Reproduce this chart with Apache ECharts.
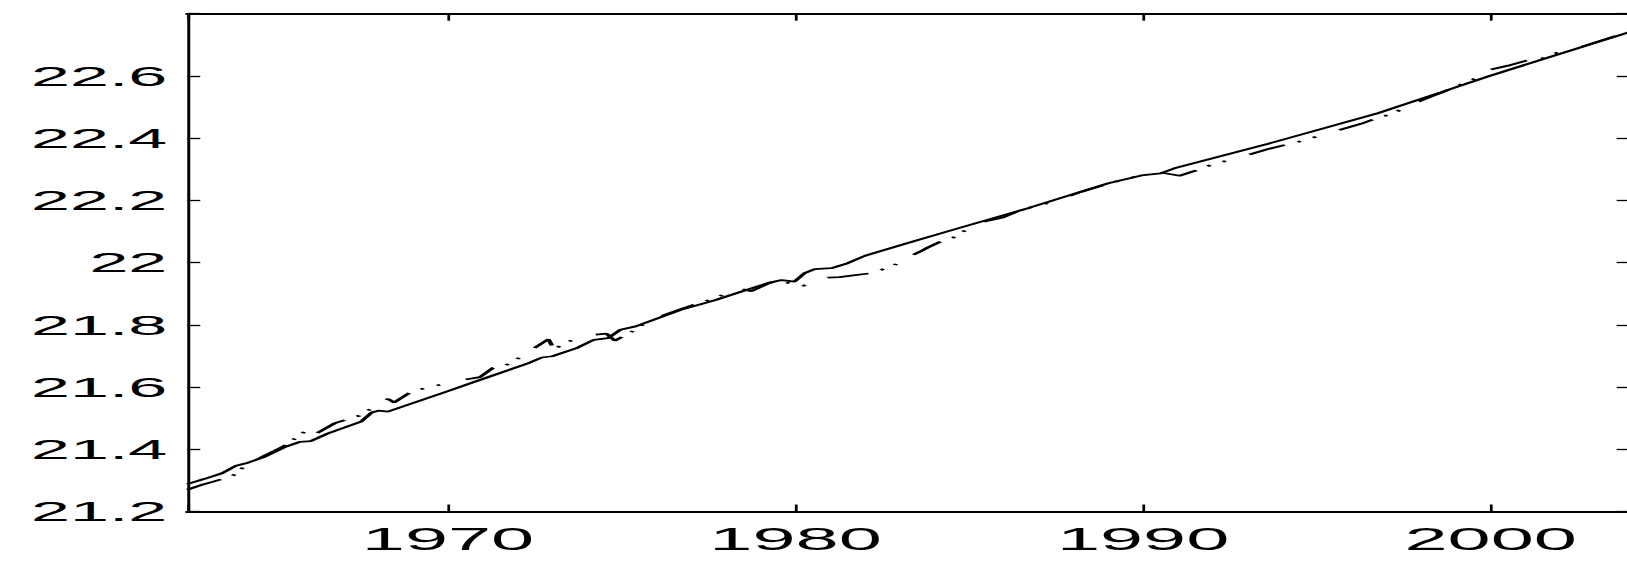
<!DOCTYPE html>
<html>
<head>
<meta charset="utf-8">
<title>Series vs trend, 1962-2004</title>
<script src="https://cdn.jsdelivr.net/npm/echarts@6.0.0/dist/echarts.min.js"></script>
<style>
  html, body { margin: 0; padding: 0; background: #ffffff; overflow: hidden; }
  /* The figure is drawn on a narrow canvas and widened 2.5x, like a stretched print. */
  #chart {
    width: 656px;
    height: 564px;
    transform: scaleX(2.5);
    transform-origin: 0 0;
  }
</style>
</head>
<body>
<div id="chart"></div>
<script>
// Solid line
const lineYears = [1962.5, 1963.0, 1963.5, 1963.9, 1964.25, 1964.7, 1965.3, 1965.75, 1966.05, 1966.55,
  1967.5, 1967.8, 1968.0, 1968.27, 1970.0, 1970.77, 1971.5, 1972.3, 1972.7, 1973.0,
  1973.7, 1974.2, 1974.6, 1974.96, 1975.4, 1976.7, 1977.7, 1978.25, 1979.2, 1979.6,
  1979.97, 1980.26, 1980.55, 1981.03, 1981.5, 1982.0, 1983.23, 1984.67, 1986.69, 1989.0,
  1989.95, 1990.5, 1990.9, 1993.6, 1996.75, 1998.58, 1999.92, 2001.45, 2004.0];
const lineValues = [21.288, 21.305, 21.323, 21.347, 21.357, 21.375, 21.407, 21.424, 21.426, 21.451,
  21.489, 21.518, 21.524, 21.521, 21.587, 21.617, 21.645, 21.676, 21.695, 21.699,
  21.725, 21.752, 21.757, 21.784, 21.795, 21.848, 21.880, 21.900, 21.934, 21.944,
  21.939, 21.966, 21.979, 21.982, 21.998, 22.022, 22.063, 22.110, 22.175, 22.255,
  22.280, 22.287, 22.303, 22.382, 22.480, 22.548, 22.598, 22.652, 22.741];

// Dash-dot line
const dashYears = [1962.5, 1962.9, 1963.25, 1963.8, 1964.1, 1964.4, 1964.7, 1965.0, 1965.3, 1965.98,
  1966.15, 1966.75, 1967.45, 1968.28, 1968.45, 1968.96, 1969.72, 1970.45, 1970.92, 1971.3,
  1971.6, 1972.07, 1972.89, 1973.05, 1973.7, 1974.2, 1974.56, 1974.8, 1975.39, 1975.6,
  1976.19, 1976.76, 1977.72, 1978.35, 1978.73, 1979.25, 1979.59, 1979.9, 1980.21, 1980.93,
  1981.27, 1981.6, 1982.1, 1982.5, 1982.8, 1983.0, 1983.58, 1983.8, 1984.24, 1984.53,
  1984.91, 1985.44, 1985.97, 1986.5, 1987.28, 1988.23, 1989.09, 1989.9, 1990.48, 1991.05,
  1991.5, 1991.98, 1992.64, 1993.6, 1994.5, 1995.27, 1996.27, 1996.9, 1997.1, 1997.63,
  1998.3, 1998.63, 1999.3, 1999.7, 1999.97, 2000.5, 2001.02, 2001.5, 2001.79, 2002.32,
  2002.65, 2003.65, 2004.0];
const dashValues = [21.270, 21.285, 21.296, 21.314, 21.341, 21.360, 21.378, 21.394, 21.411, 21.465,
  21.447, 21.484, 21.508, 21.562, 21.550, 21.586, 21.606, 21.623, 21.632, 21.662,
  21.666, 21.695, 21.754, 21.722, 21.758, 21.768, 21.772, 21.749, 21.784, 21.800,
  21.830, 21.853, 21.887, 21.918, 21.908, 21.935, 21.942, 21.930, 21.925, 21.952,
  21.953, 21.958, 21.965, 21.978, 21.987, 22.005, 22.035, 22.048, 22.071, 22.080,
  22.105, 22.132, 22.145, 22.170, 22.192, 22.228, 22.257, 22.279, 22.290, 22.279,
  22.295, 22.315, 22.334, 22.365, 22.389, 22.414, 22.446, 22.472, 22.473, 22.505,
  22.534, 22.548, 22.580, 22.598, 22.620, 22.633, 22.649, 22.657, 22.671, 22.686,
  22.695, 22.730, 22.741];

// Tick labels
const xTickLabels = [1970, 1980, 1990, 2000];
const yTickLabels = [21.2, 21.4, 21.6, 21.8, 22, 22.2, 22.4, 22.6];

const pairs = (xs, ys) => xs.map((x, i) => [x, ys[i]]);
const isListed = (list, v) => list.some(t => Math.abs(t - v) < 1e-6);

const FONT = "'Liberation Sans', Arial, Helvetica, sans-serif";
const INK = '#000000';

const xBase = {
  type: 'value',
  min: 1962.5,
  max: 2004,
  splitLine: { show: false },
  axisLine: { show: true, onZero: false, lineStyle: { color: INK, width: 2 } },
  axisTick: { show: true, inside: true, length: 7, lineStyle: { color: INK, width: 1.1 } }
};
const yBase = {
  type: 'value',
  min: 21.2,
  max: 22.8,
  interval: 0.2,
  splitLine: { show: false },
  axisLine: { show: true, onZero: false, lineStyle: { color: INK, width: 1.2 } },
  axisTick: { show: true, inside: true, length: 5.2, lineStyle: { color: INK, width: 1.3 } }
};

const chart = echarts.init(document.getElementById('chart'), null, { renderer: 'svg' });
chart.setOption({
  animation: false,
  backgroundColor: '#ffffff',
  grid: { left: 74.92, top: 13.7, width: 576.96, height: 497.8, containLabel: false },
  xAxis: [
    Object.assign({}, xBase, {
      position: 'bottom',
      axisLabel: {
        show: true, color: INK, fontFamily: FONT, fontSize: 31, margin: 12,
        formatter: v => isListed(xTickLabels, v) ? String(v) : ''
      }
    }),
    Object.assign({}, xBase, { position: 'top', axisLabel: { show: false } })
  ],
  yAxis: [
    Object.assign({}, yBase, {
      position: 'left',
      axisLabel: {
        show: true, color: INK, fontFamily: FONT, fontSize: 28, margin: 8,
        formatter: v => isListed(yTickLabels, v) ? String(+v.toFixed(1)) : ''
      }
    }),
    Object.assign({}, yBase, { position: 'right', axisLabel: { show: false } })
  ],
  series: [
    {
      name: 'solid',
      type: 'line',
      xAxisIndex: 0,
      yAxisIndex: 0,
      data: pairs(lineYears, lineValues),
      showSymbol: false,
      symbol: 'none',
      lineStyle: { color: INK, width: 1.8 },
      z: 3
    },
    {
      name: 'dash-dot',
      type: 'line',
      xAxisIndex: 0,
      yAxisIndex: 0,
      data: pairs(dashYears, dashValues),
      showSymbol: false,
      symbol: 'none',
      lineStyle: { color: INK, width: 1.8, type: [17, 6, 1.5, 6, 1.5, 11.5] },
      z: 2
    }
  ]
});
</script>
</body>
</html>
